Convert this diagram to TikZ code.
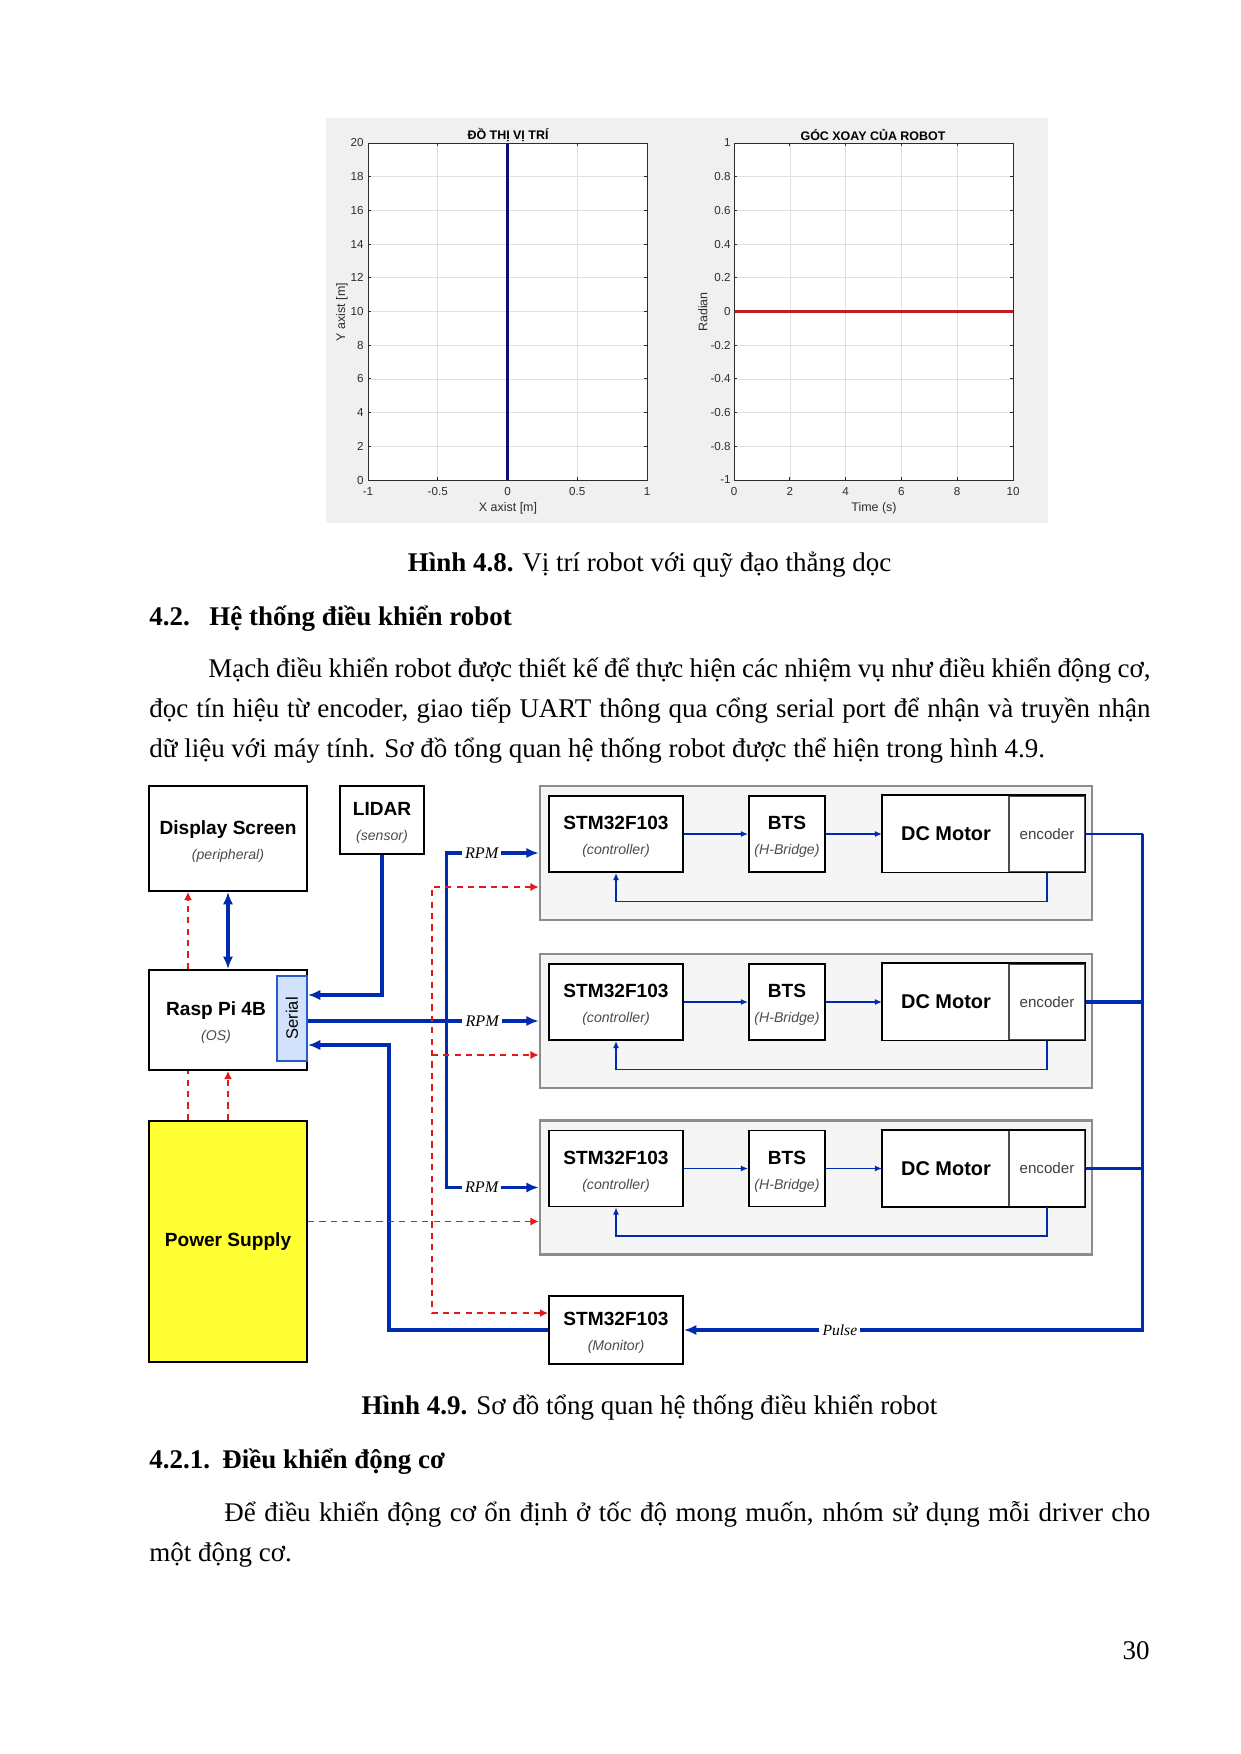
\documentclass[tikz,border=0pt]{standalone}
\usepackage{fontspec}
\setmainfont{Liberation Serif}
\newfontfamily\arial{Liberation Sans}
\usetikzlibrary{positioning,arrows.meta,calc}

\definecolor{lineblue}{RGB}{0,42,175}
\definecolor{dashred}{RGB}{225,25,25}
\definecolor{serialfill}{RGB}{210,226,250}
\definecolor{serialdraw}{RGB}{40,90,200}
\definecolor{psyellow}{RGB}{255,255,51}
\definecolor{figgray}{RGB}{240,240,240}
\definecolor{axgray}{RGB}{45,45,45}
\definecolor{trajblue}{RGB}{15,15,115}
\definecolor{anglered}{RGB}{190,30,30}

\newcommand{\pxu}{0.4818pt}
\newcommand{\body}{\fontsize{13pt}{15pt}\selectfont}
\newcommand{\blocklabel}[2]{{\fontsize{9.2pt}{11pt}\selectfont\bfseries\rule{0pt}{9.5pt}#1}\\{\fontsize{6.8pt}{8pt}\selectfont\itshape\color{black!70}#2}}

\tikzset{
  blk/.style={draw, line width=0.9pt, fill=white, inner sep=0pt, align=center, font=\arial},
  grp/.style={draw=black!45, line width=1.2pt, fill=black!4, inner sep=0pt},
  bus/.style={draw=lineblue, line width=1.6pt},
  wire/.style={draw=lineblue, line width=0.8pt},
  pwr/.style={draw=dashred, line width=0.8pt, dash pattern=on 3pt off 2.5pt},
  tagtxt/.style={fill=white, inner sep=1.5pt, font=\fontsize{7.8pt}{9pt}\selectfont\itshape},
  ticklbl/.style={inner sep=0pt, text=axgray, font=\arial\fontsize{5.6pt}{6pt}\selectfont},
  axlbl/.style={inner sep=0pt, text=axgray, font=\arial\fontsize{6pt}{7pt}\selectfont},
  axline/.style={draw=axgray, line width=0.4pt},
  gridline/.style={draw=black!12, line width=0.3pt},
  >={Latex[length=6pt,width=5pt]},
}

\begin{document}
\begin{tikzpicture}[x=0.4818pt, y=-0.4818pt]
\useasboundingbox (0,0) rectangle (1240,1754);

% Nen hinh 4.8
\fill[figgray] (326,118) rectangle (1048,523);

% Do thi vi tri
\fill[white] (368,143) rectangle (647,480);
\foreach \xv in {-0.5,0,0.5} \draw[gridline] ({507.5+139.5*\xv},143) -- ({507.5+139.5*\xv},480);
\foreach \yv in {2,4,...,18} \draw[gridline] (368,{480-16.85*\yv}) -- (647,{480-16.85*\yv});
\foreach \xv/\lab [count=\i] in {-1/-1,-0.5/-0.5,0/0,0.5/0.5,1/1} {
  \draw[axline] ({507.5+139.5*\xv},480) -- ++(0,-3);
  \draw[axline] ({507.5+139.5*\xv},143) -- ++(0,3);
  \node[ticklbl, anchor=north] (lx\i) at ({507.5+139.5*\xv},487) {\lab};
}
\foreach \yv [count=\i] in {0,2,...,20} {
  \draw[axline] (368,{480-16.85*\yv}) -- ++(3,0);
  \draw[axline] (647,{480-16.85*\yv}) -- ++(-3,0);
  \node[ticklbl, anchor=east] (ly\i) at (364,{480-16.85*\yv}) {\yv};
}
\draw[trajblue, line width=1pt] (507.5,143) -- (507.5,480);
\draw[axline] (368,143) rectangle (647,480);
\node[font=\arial\bfseries\fontsize{6pt}{7pt}\selectfont, inner sep=0pt] (ttlpos) at (508,135) {ĐỒ THỊ VỊ TRÍ};
\node[axlbl] (xlblpos) at (508,508) {X axist [m]};
\node[axlbl, rotate=90] (ylblpos) at (342,312) {Y axist [m]};

% Do thi goc xoay
\fill[white] (734,143) rectangle (1013,480);
\foreach \tv in {2,4,6,8} \draw[gridline] ({734+27.9*\tv},143) -- ({734+27.9*\tv},480);
\foreach \rv in {-0.8,-0.6,-0.4,-0.2,0.2,0.4,0.6,0.8} \draw[gridline] (734,{311.5-168.5*\rv}) -- (1013,{311.5-168.5*\rv});
\foreach \tv [count=\i] in {0,2,...,10} {
  \draw[axline] ({734+27.9*\tv},480) -- ++(0,-3);
  \draw[axline] ({734+27.9*\tv},143) -- ++(0,3);
  \node[ticklbl, anchor=north] (rx\i) at ({734+27.9*\tv},487) {\tv};
}
\foreach \rv/\lab [count=\i] in {1/1,0.8/0.8,0.6/0.6,0.4/0.4,0.2/0.2,0/0,-0.2/-0.2,-0.4/-0.4,-0.6/-0.6,-0.8/-0.8,-1/-1} {
  \draw[axline] (734,{311.5-168.5*\rv}) -- ++(3,0);
  \draw[axline] (1013,{311.5-168.5*\rv}) -- ++(-3,0);
  \node[ticklbl, anchor=east] (ry\i) at (731,{311.5-168.5*\rv}) {\lab};
}
\draw[anglered, line width=1pt] (734,311.5) -- (1013,311.5);
\draw[axline] (734,143) rectangle (1013,480);
\node[font=\arial\bfseries\fontsize{6pt}{7pt}\selectfont, inner sep=0pt] (ttlang) at (873,135) {GÓC XOAY CỦA ROBOT};
\node[axlbl] (xlblang) at (874,508) {Time (s)};
\node[axlbl, rotate=90] (ylblang) at (703,312) {Radian};

% Chu thich va doan van
\node[anchor=base, inner sep=0pt, font=\body] (cap48) at (649.5,571) {\textbf{Hình 4.8.} Vị trí robot với quỹ đạo thẳng dọc};
\node[anchor=base west, inner sep=0pt, font=\body\bfseries] (sec42) at (149,625) {4.2.};
\node[anchor=base west, inner sep=0pt, font=\body\bfseries] (sec42t) at (209,625) {Hệ thống điều khiển robot};
\node[anchor=base west, inner sep=0pt, font=\body] (par1a) at (208,677) {\makebox[453.9pt][s]{Mạch điều khiển robot được thiết kế để thực hiện các nhiệm vụ như điều khiển động cơ,}};
\node[anchor=base west, inner sep=0pt, font=\body] (par1b) at (149,717) {\makebox[482.3pt][s]{đọc tín hiệu từ encoder, giao tiếp UART thông qua cổng serial port để nhận và truyền nhận}};
\node[anchor=base west, inner sep=0pt, font=\body] (par1c) at (149,757) {dữ liệu với máy tính. Sơ đồ tổng quan hệ thống robot được thể hiện trong hình 4.9.};

% Khoi ben trai
\node[blk, minimum width=158*\pxu, minimum height=105*\pxu] (disp) at (228,838.5) {\blocklabel{Display Screen}{(peripheral)}};
\node[blk, minimum width=84*\pxu, minimum height=68*\pxu] (lidar) at (382,820) {\blocklabel{LIDAR}{(sensor)}};
\node[blk, minimum width=158*\pxu, minimum height=100*\pxu] (rasp) at (228,1020) {};
\node[font=\arial, align=center] (rasplbl) at (216,1020) {\blocklabel{Rasp Pi 4B}{(OS)}};
\node[draw=serialdraw, fill=serialfill, line width=0.8pt, inner sep=0pt, minimum width=30*\pxu, minimum height=85*\pxu,
  font=\arial\fontsize{8pt}{9pt}\selectfont] (serial) at (292,1018.5) {\rotatebox{90}{Serial}};
\node[blk, fill=psyellow, minimum width=158*\pxu, minimum height=241*\pxu] (psu) at (228,1241.5)
  {\fontsize{9.2pt}{11pt}\selectfont\bfseries Power Supply};

% Ba cum dieu khien dong co
\foreach \g/\gy in {1/853,2/1021,3/1187.5} {
  \node[grp, minimum width=552*\pxu, minimum height=134*\pxu] (grp\g) at (816,\gy) {};
  \node[blk, minimum width=134*\pxu, minimum height=76*\pxu] (stm\g) at (616,{\gy-19}) {\blocklabel{STM32F103}{(controller)}};
  \node[blk, minimum width=76*\pxu, minimum height=76*\pxu] (bts\g) at (787,{\gy-19}) {\blocklabel{BTS}{(H-Bridge)}};
  \node[blk, draw=none, minimum width=126*\pxu, minimum height=76*\pxu] (dcm\g) at (946,{\gy-19}) {\fontsize{9.6pt}{11pt}\selectfont\bfseries DC Motor};
  \node[blk, draw=black!70, line width=0.5pt, minimum width=76*\pxu, minimum height=76*\pxu,
    text=black!75, font=\arial\fontsize{7.3pt}{8pt}\selectfont] (enc\g) at (1047,{\gy-19}) {encoder};
  \draw[line width=0.9pt] (dcm\g.north west) rectangle (enc\g.south east);
  \draw[wire,-{Latex[length=3.5pt,width=3pt]}] (stm\g) -- (bts\g);
  \draw[wire,-{Latex[length=3.5pt,width=3pt]}] (bts\g) -- (dcm\g);
  \draw[wire,-{Latex[length=3.5pt,width=3pt]}] (enc\g.south) -- ++(0,29) -| (stm\g.south);
}

% STM giam sat
\node[blk, minimum width=134*\pxu, minimum height=68*\pxu] (mon) at (616,1330) {\blocklabel{STM32F103}{(Monitor)}};

% Duong tin hieu
\draw[bus,<->] (disp.south) -- (rasp.north);
\draw[bus,->] (lidar.south) |- ($(serial.east)+(0,-23.5)$);
\draw[bus,->] (serial.east |- grp2.west) -- node[tagtxt, pos=0.755] {RPM} (grp2.west);
\draw[bus,<->] (grp1.west) -- node[tagtxt, pos=0.62] {RPM} ++(-92,0)
  |- node[tagtxt, pos=0.69] {RPM} (grp3.west);
\draw[bus,->] (mon.west) -- ++(-159,0) |- ($(serial.east)+(0,26.5)$);

% Xung encoder ve STM giam sat
\coordinate (pbus) at ($(enc1.east)+(57,0)$);
\draw[lineblue, line width=1pt] (enc1.east) -- (pbus);
\draw[bus] (enc2.east) -- ++(57,0);
\draw[bus] (enc3.east) -- ++(57,0);
\draw[bus,->] (pbus) |- node[tagtxt, pos=0.83, font=\fontsize{7.5pt}{9pt}\selectfont\itshape] {Pulse} (mon.east);

% Nguon
\coordinate (g1p) at ($(grp1.west)+(0,34)$);
\coordinate (g2p) at ($(grp2.west)+(0,34)$);
\coordinate (g3p) at ($(grp3.west)+(0,34)$);
\draw[pwr,-{Latex[length=4pt,width=4pt]}] ($(rasp.north)+(-40,0)$) -- ($(disp.south)+(-40,0)$);
\draw[pwr] ($(psu.north)+(-40,0)$) -- ($(rasp.south)+(-40,0)$);
\draw[pwr,-{Latex[length=4pt,width=4pt]}] (psu.north) -- (rasp.south);
\draw[pwr,-{Latex[length=4pt,width=4pt]}] (psu.east |- g3p) -- (g3p);
\draw[pwr,{Latex[length=4pt,width=4pt]}-{Latex[length=4pt,width=4pt]}] (g1p) -- ++(-107,0) |- ($(mon.west)+(0,-17)$);
\draw[pwr,-{Latex[length=4pt,width=4pt]}] ($(g2p)+(-107,0)$) -- (g2p);

% Chu thich hinh 4.9 va muc 4.2.1
\node[anchor=base, inner sep=0pt, font=\body] (cap49) at (649.5,1414) {\textbf{Hình 4.9.} Sơ đồ tổng quan hệ thống điều khiển robot};
\node[anchor=base west, inner sep=0pt, font=\body\bfseries] (sec421) at (149,1468) {4.2.1.};
\node[anchor=base west, inner sep=0pt, font=\body\bfseries] (sec421t) at (222,1468) {Điều khiển động cơ};
\node[anchor=base west, inner sep=0pt, font=\body] (par2a) at (224,1521) {\makebox[446.1pt][s]{Để điều khiển động cơ ổn định ở tốc độ mong muốn, nhóm sử dụng mỗi driver cho}};
\node[anchor=base west, inner sep=0pt, font=\body] (par2b) at (149,1561) {một động cơ.};
\node[anchor=base east, inner sep=0pt, font=\body] (pageno) at (1150,1659) {30};
\end{tikzpicture}
\end{document}
